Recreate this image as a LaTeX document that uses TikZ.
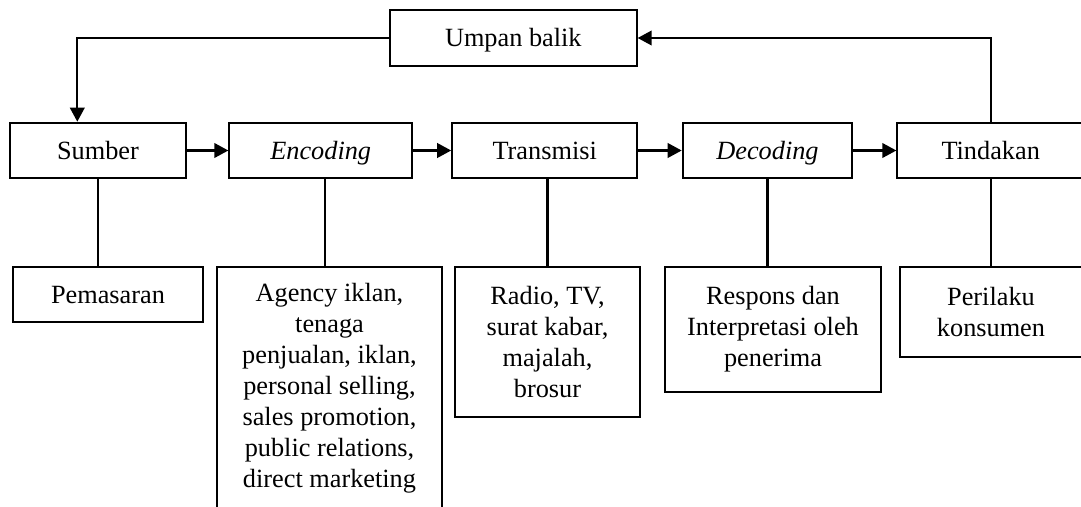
\documentclass[tikz,border=0pt]{standalone}
\usepackage{fontspec}
\setmainfont{Liberation Serif}
\usetikzlibrary{arrows.meta,calc}
\begin{document}
\begin{tikzpicture}[x=1pt,y=-1pt,
  box/.style={draw, line width=2pt, inner sep=0pt, align=center,
    font=\fontsize{26.3}{31}\selectfont},
  one/.style={box, text height=17.6pt, text depth=0pt, minimum height=55.6pt},
  conn/.style={line width=2.2pt},
  arr/.style={conn, -{Triangle[length=14pt,width=14.5pt]}}]
\useasboundingbox (0,0) rectangle (1081,506);
\fill[white] (0,0) rectangle (1081,506);
% top row
\node[one, minimum width=246.7pt] (umpan) at (513.3,38) {Umpan balik};
\node[one, minimum width=176pt] (sumber) at (98,150.5) {Sumber};
\node[one, minimum width=182.7pt] (enc) at (320.7,150.5) {\textit{Encoding}};
\node[one, minimum width=185pt] (trans) at (544.7,150.5) {Transmisi};
\node[one, minimum width=169.6pt] (dec) at (767.5,150.5) {\textit{Decoding}};
\node[one, minimum width=186.7pt] (tind) at (990.7,150.5) {Tindakan};
% bottom row
\node[one, minimum width=190.6pt] (pemasaran) at (108,294.5) {Pemasaran};
\node[box, minimum width=225.6pt, minimum height=243pt] (agency) at (329.5,388.2)
  {Agency iklan,\\tenaga\\penjualan, iklan,\\personal selling,\\sales promotion,\\public relations,\\direct marketing};
\node[box, minimum width=185pt, minimum height=150pt] (radio) at (547.5,341.7)
  {Radio, TV,\\surat kabar,\\majalah,\\brosur};
\node[box, minimum width=216pt, minimum height=124.5pt] (respons) at (773,329.25)
  {Respons dan\\Interpretasi oleh\\penerima};
\node[box, minimum width=182pt, minimum height=90pt] (perilaku) at (991,312)
  {Perilaku\\konsumen};
% flow arrows
\draw[arr] (sumber) -- (enc);
\draw[arr] (enc) -- (trans);
\draw[arr] (trans) -- (dec);
\draw[arr] (dec) -- (tind);
% feedback
\draw[arr] (tind.north) |- (umpan.east);
\draw[arr] (umpan.west) -| ([xshift=-20.7pt]sumber.north);
% vertical links
\draw[conn] (sumber.south) -- (sumber.south |- pemasaran.north);
\draw[conn] ([xshift=4.3pt]enc.south) -- ([xshift=4.3pt]enc.south |- agency.north);
\draw[conn] (trans.south -| radio.north) -- (radio.north);
\draw[conn] (dec.south) -- (dec.south |- respons.north);
\draw[conn] (tind.south) -- (tind.south |- perilaku.north);
\end{tikzpicture}
\end{document}
